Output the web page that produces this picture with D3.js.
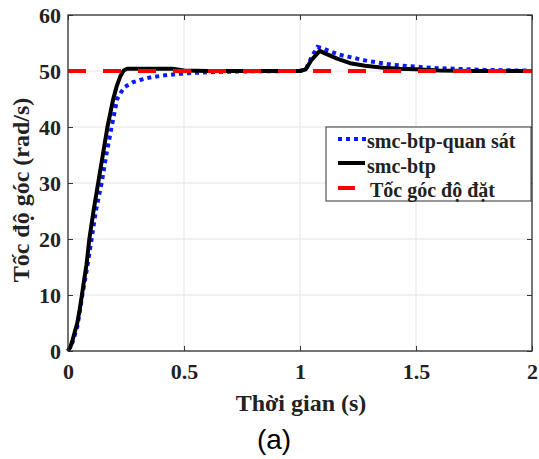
<!DOCTYPE html>
<html><head><meta charset="utf-8">
<script src="https://cdn.jsdelivr.net/npm/d3@7"></script>
<style>html,body{margin:0;padding:0;background:#fff;}svg{display:block;}</style>
</head><body>
<svg id="c" width="539" height="459"></svg>
<script>
// ---- data ----
const xTicks = [0, 0.5, 1, 1.5, 2];
const xTickLabels = ["0", "0.5", "1", "1.5", "2"];
const yTicks = [0, 10, 20, 30, 40, 50, 60];
const yTickLabels = ["0", "10", "20", "30", "40", "50", "60"];

const seriesNames = ["smc-btp-quan sát", "smc-btp", "Tốc góc độ đặt"];

// smc-btp (black)
const tBtp = [0, 0.01, 0.02, 0.03, 0.04, 0.05, 0.06, 0.07, 0.08, 0.092, 0.11, 0.13, 0.15, 0.17, 0.185, 0.195, 0.21, 0.225, 0.24, 0.255, 0.45, 0.5, 0.6, 1.0, 1.025, 1.05, 1.085, 1.11, 1.16, 1.216, 1.28, 1.36, 1.43, 1.5, 1.6, 1.75, 2.0];
const vBtp = [0, 0.7, 2, 3.5, 5, 7.3, 10, 12.8, 15.5, 20, 25, 30, 35, 40, 43, 45, 47.3, 49, 50.1, 50.4, 50.4, 50.1, 50, 50, 50.3, 52, 53.6, 53.1, 52.2, 51.4, 50.95, 50.6, 50.4, 50.3, 50.1, 50.0, 50];

// smc-btp-quan sát (blue dotted)
const tObs = [0, 0.02, 0.04, 0.062, 0.08, 0.10, 0.12, 0.145, 0.165, 0.188, 0.212, 0.23, 0.246, 0.28, 0.31, 0.36, 0.43, 0.53, 0.66, 0.8, 1.0, 1.025, 1.05, 1.075, 1.1, 1.17, 1.29, 1.4, 1.47, 1.6, 1.7, 1.8, 2.0];
const vObs = [0, 1.6, 4.3, 10, 14.3, 19.5, 25, 30, 35, 40, 45, 46.3, 47.2, 48, 48.4, 48.9, 49.3, 49.65, 49.85, 49.95, 50, 50.3, 52.5, 54.3, 54.0, 52.9, 51.8, 51.1, 50.85, 50.5, 50.35, 50.2, 50.05];

// reference (red dashed)
const tRef = [0, 2];
const vRef = [50, 50];

// ---- layout ----
const svg = d3.select("#c");
const L = 68, T = 15, W = 464, H = 336;
const x = d3.scaleLinear().domain([0, 2]).range([L, L + W]);
const y = d3.scaleLinear().domain([0, 60]).range([T + H, T]);

const serif = "'Liberation Serif','Times New Roman',serif";

// grid
svg.append("g").selectAll("line.gx").data(xTicks).join("line")
  .attr("x1", d => x(d)).attr("x2", d => x(d)).attr("y1", T).attr("y2", T + H)
  .attr("stroke", "#e3e3e3").attr("stroke-width", 1);
svg.append("g").selectAll("line.gy").data(yTicks).join("line")
  .attr("y1", d => y(d)).attr("y2", d => y(d)).attr("x1", L).attr("x2", L + W)
  .attr("stroke", "#e3e3e3").attr("stroke-width", 1);

// axes with d3 axis generators (inward ticks)
const fmtX = d => xTickLabels[xTicks.indexOf(d)];
const fmtY = d => yTickLabels[yTicks.indexOf(d)];
const gx = svg.append("g").attr("transform", `translate(0,${T + H})`)
  .call(d3.axisBottom(x).tickValues(xTicks).tickFormat(fmtX).tickSizeInner(-5).tickSizeOuter(0).tickPadding(12));
const gy = svg.append("g").attr("transform", `translate(${L},0)`)
  .call(d3.axisLeft(y).tickValues(yTicks).tickFormat(fmtY).tickSizeInner(-5).tickSizeOuter(0).tickPadding(7));
const gxt = svg.append("g").attr("transform", `translate(0,${T})`)
  .call(d3.axisTop(x).tickValues(xTicks).tickFormat("").tickSizeInner(-5).tickSizeOuter(0));
const gyr = svg.append("g").attr("transform", `translate(${L + W},0)`)
  .call(d3.axisRight(y).tickValues(yTicks).tickFormat("").tickSizeInner(-5).tickSizeOuter(0));
[gx, gy, gxt, gyr].forEach(g => {
  g.select(".domain").remove();
  g.selectAll(".tick line").attr("stroke", "#333").attr("stroke-width", 1);
  g.selectAll(".tick text").attr("font-family", serif).attr("font-weight", "bold")
    .attr("font-size", 22).attr("fill", "#222");
});
gx.selectAll(".tick text").attr("dy", "0.71em");

// clip
svg.append("clipPath").attr("id", "clip").append("rect")
  .attr("x", L - 6).attr("y", T).attr("width", W + 6).attr("height", H + 2);

const line = d3.line().x(d => x(d[0])).y(d => y(d[1]));
const plot = svg.append("g").attr("clip-path", "url(#clip)");
plot.append("path").datum(d3.zip(tObs, vObs)).attr("d", line)
  .attr("fill", "none").attr("stroke", "#0a1aff").attr("stroke-width", 4)
  .attr("stroke-dasharray", "4,4");
plot.append("path").datum(d3.zip(tBtp, vBtp)).attr("d", line)
  .attr("fill", "none").attr("stroke", "#000").attr("stroke-width", 4)
  .attr("stroke-linejoin", "round");
plot.append("path").datum(d3.zip(tRef, vRef)).attr("d", line)
  .attr("fill", "none").attr("stroke", "#ff0000").attr("stroke-width", 4)
  .attr("stroke-dasharray", "18,17");

// frame
svg.append("rect").attr("x", L).attr("y", T).attr("width", W).attr("height", H)
  .attr("fill", "none").attr("stroke", "#333").attr("stroke-width", 1.3);

// axis labels
svg.append("text").attr("x", 301).attr("y", 411).attr("text-anchor", "middle")
  .attr("font-family", serif).attr("font-weight", "bold").attr("font-size", 24).attr("fill", "#222")
  .text("Thời gian (s)");
svg.append("text").attr("transform", "translate(29,190) rotate(-90)").attr("text-anchor", "middle")
  .attr("font-family", serif).attr("font-weight", "bold").attr("font-size", 24).attr("fill", "#222")
  .text("Tốc độ góc (rad/s)");
svg.append("text").attr("x", 274).attr("y", 449).attr("text-anchor", "middle")
  .attr("font-family", "'Liberation Sans',Arial,sans-serif").attr("font-size", 28).attr("fill", "#000")
  .text("(a)");

// legend
const lg = svg.append("g");
lg.append("rect").attr("x", 326).attr("y", 127).attr("width", 205).attr("height", 74)
  .attr("fill", "#fff").attr("stroke", "#333").attr("stroke-width", 1);
const legRows = [
  {name: seriesNames[0], color: "#0a1aff", dash: "4,4", x1: 338, x2: 366, y: 139, tx: 367, ty: 148},
  {name: seriesNames[1], color: "#000", dash: null, x1: 338, x2: 365, y: 163, tx: 367, ty: 173},
  {name: seriesNames[2], color: "#ff0000", dash: null, x1: 338, x2: 355, y: 188, tx: 370, ty: 197}
];
legRows.forEach(r => {
  const l = lg.append("line").attr("x1", r.x1).attr("x2", r.x2).attr("y1", r.y).attr("y2", r.y)
    .attr("stroke", r.color).attr("stroke-width", 4);
  if (r.dash) l.attr("stroke-dasharray", r.dash);
  lg.append("text").attr("x", r.tx).attr("y", r.ty).attr("font-family", serif)
    .attr("font-weight", "bold").attr("font-size", 20).attr("fill", "#222").text(r.name);
});
</script>
</body></html>
